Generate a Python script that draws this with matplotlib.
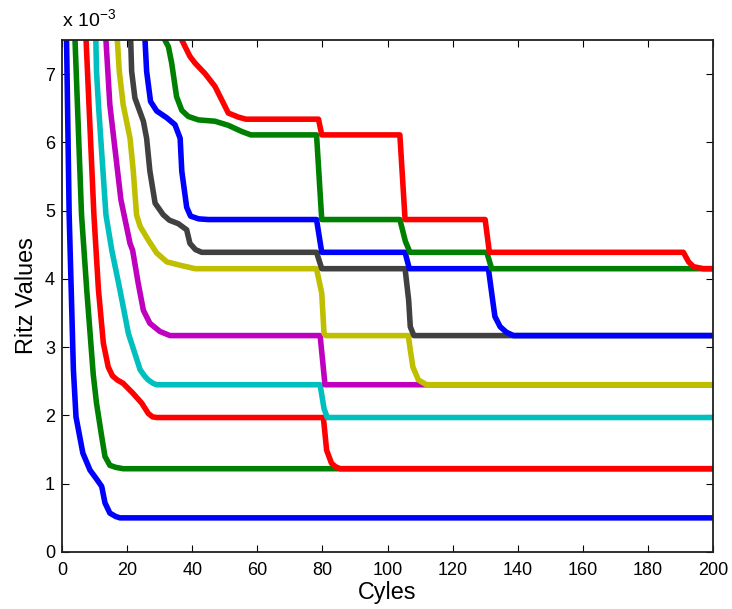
import matplotlib
matplotlib.use("Agg")
import matplotlib.pyplot as plt

plt.rcParams['font.family'] = ['Liberation Sans', 'DejaVu Sans']
plt.rcParams['mathtext.fontset'] = 'custom'
plt.rcParams['mathtext.rm'] = 'Liberation Sans'

# Ritz values in units of 1e-3 (cycle, value) pairs
cyc_1 = [0.8, 1.4, 2.2, 3.5, 4.3, 6.4, 8.6, 10.9, 12.2, 13.2, 14.7, 16.5, 17.8, 200]
ritz_1 = [8.0, 7.5, 4.94, 2.67, 1.98, 1.45, 1.2, 1.05, 0.96, 0.72, 0.57, 0.52, 0.50, 0.50]

cyc_2 = [3.6, 4.0, 6.0, 7.6, 9.6, 10.6, 12.2, 13.2, 14.7, 16.5, 18.8, 200]
ritz_2 = [8.0, 7.5, 4.94, 3.84, 2.6, 2.18, 1.69, 1.40, 1.27, 1.24, 1.22, 1.22]

cyc_3 = [7.0, 7.4, 9.8, 11.2, 12.7, 14.2, 15.5, 17.0, 18.8, 21.9, 24.5, 26.5, 27.8, 29.1,
         80.3, 81.3, 82.8, 84.0, 85.4, 200]
ritz_3 = [8.0, 7.5, 4.94, 3.84, 3.06, 2.71, 2.58, 2.52, 2.47, 2.32, 2.18, 2.03, 1.98, 1.97,
          1.97, 1.49, 1.30, 1.25, 1.22, 1.22]

cyc_4 = [10.2, 10.4, 10.6, 11.2, 13.5, 15.3, 17.8, 20.4, 24.0, 25.5, 26.5, 28.0, 29.1,
         79.3, 80.5, 81.5, 200]
ritz_4 = [8.0, 7.5, 7.04, 6.55, 4.94, 4.42, 3.84, 3.2, 2.67, 2.57, 2.52, 2.47, 2.45,
          2.45, 2.1, 1.97, 1.97]

cyc_5 = [13.3, 13.5, 14.7, 18.1, 20.9, 21.7, 23.4, 25.0, 27.0, 30.1, 33.2, 79.3, 80.8, 200]
ritz_5 = [8.0, 7.5, 6.55, 5.16, 4.52, 4.42, 3.94, 3.54, 3.35, 3.23, 3.17, 3.17, 2.45, 2.45]

cyc_6 = [16.8, 17.0, 17.6, 18.8, 20.9, 21.9, 22.9, 24.0, 26.5, 29.1, 32.2, 36.3, 40.9,
         78.2, 79.8, 80.5, 81.0, 106.4, 107.0, 107.8, 109.5, 112.0, 200]
ritz_6 = [8.0, 7.5, 7.04, 6.55, 6.06, 5.58, 4.94, 4.77, 4.57, 4.38, 4.25, 4.20, 4.15,
          4.15, 3.79, 3.20, 3.17, 3.17, 2.96, 2.71, 2.52, 2.45, 2.45]

cyc_7 = [20.9, 21.1, 21.4, 22.4, 25.0, 26.0, 27.0, 28.6, 31.1, 33.0, 35.7, 38.3, 39.3,
         41.0, 42.9, 78.2, 79.8, 105.4, 106.5, 107.0, 108.1, 200]
ritz_7 = [8.0, 7.5, 7.04, 6.65, 6.31, 6.06, 5.58, 5.11, 4.94, 4.86, 4.81, 4.72, 4.52,
          4.43, 4.39, 4.39, 4.15, 4.15, 3.69, 3.30, 3.17, 3.17]

cyc_8 = [25.3, 25.5, 26.0, 27.2, 29.1, 32.2, 34.7, 36.3, 36.8, 38.3, 39.5, 42.0, 45.0,
         78.2, 79.8, 105.4, 106.7, 131.0, 132.3, 133.0, 134.6, 136.5, 138.7, 200]
ritz_8 = [8.0, 7.5, 7.04, 6.60, 6.46, 6.36, 6.26, 6.06, 5.58, 5.05, 4.92, 4.88, 4.87,
          4.87, 4.39, 4.39, 4.15, 4.15, 3.69, 3.45, 3.30, 3.22, 3.17, 3.17]

cyc_9 = [31.4, 31.6, 32.7, 33.7, 35.2, 36.8, 38.8, 41.9, 47.0, 51.1, 55.2, 58.0,
         78.2, 79.8, 103.8, 105.5, 106.9, 130.5, 132.0, 200]
ritz_9 = [8.0, 7.5, 7.40, 7.16, 6.67, 6.47, 6.38, 6.33, 6.31, 6.25, 6.16, 6.11,
          6.11, 4.87, 4.87, 4.55, 4.39, 4.39, 4.15, 4.15]

cyc_10 = [36.0, 36.8, 39.3, 40.9, 43.9, 47.0, 49.1, 51.1, 54.2, 56.5, 78.8, 79.8,
          103.8, 105.4, 130.0, 131.3, 190.9, 192.5, 194.0, 197.0, 200]
ritz_10 = [8.0, 7.5, 7.26, 7.16, 7.01, 6.82, 6.62, 6.43, 6.37, 6.34, 6.34, 6.11,
           6.11, 4.87, 4.87, 4.39, 4.39, 4.25, 4.18, 4.15, 4.15]

series = [(cyc_1, ritz_1), (cyc_2, ritz_2), (cyc_3, ritz_3), (cyc_4, ritz_4),
          (cyc_5, ritz_5), (cyc_6, ritz_6), (cyc_7, ritz_7), (cyc_8, ritz_8),
          (cyc_9, ritz_9), (cyc_10, ritz_10)]
colors = ['#0000ff', '#008000', '#ff0000', '#00bfbf', '#bf00bf', '#bfbf00',
          '#404040', '#0000ff', '#008000', '#ff0000']

x_ticks = [0, 20, 40, 60, 80, 100, 120, 140, 160, 180, 200]
y_ticks = [0, 1, 2, 3, 4, 5, 6, 7]

fig = plt.figure(figsize=(7.32, 6.09), dpi=100)
ax = fig.add_axes([62/732, 1 - 552/609, (713-62)/732, (552-40)/609])

for i, ((cx, ry), col) in enumerate(zip(series, colors)):
    ax.plot(cx, ry, color=col, lw=4.0, solid_capstyle='butt',
            solid_joinstyle='round', zorder=2 + i)

ax.set_xlim(0, 200)
ax.set_ylim(0, 7.5)
ax.set_xticks(x_ticks)
ax.set_yticks(y_ticks)
ax.tick_params(direction='in', length=5, width=0.8, top=True, right=True,
               labelsize=13, colors='black')
ax.tick_params(axis='x', pad=7)
ax.tick_params(axis='y', pad=5)
for s in ax.spines.values():
    s.set_linewidth(1.3)
    s.set_color('#202020')
    s.set_zorder(20)

ax.set_xlabel('Cyles', fontsize=16.8, labelpad=2)
ax.set_ylabel('Ritz Values', fontsize=16.8, labelpad=5)
ax.text(0, 1.017, r'x 10$^{-3}$', transform=ax.transAxes, fontsize=14,
        ha='left', va='bottom')

fig.savefig('out.png', dpi=100)
